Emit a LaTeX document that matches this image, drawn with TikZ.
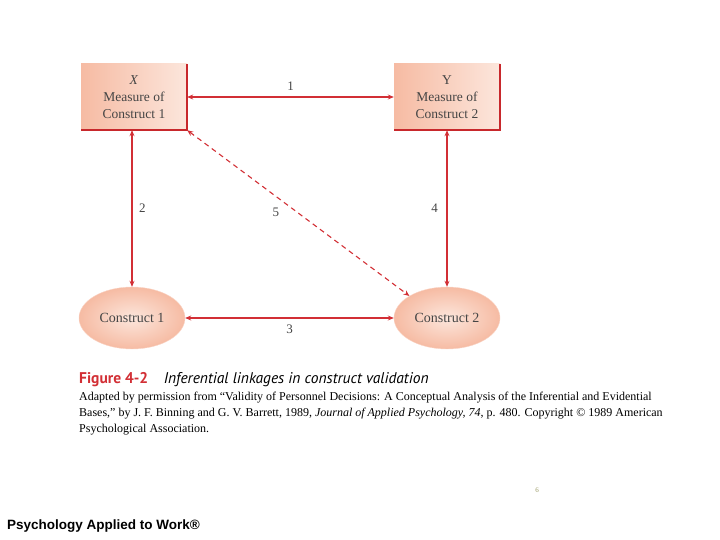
\documentclass[tikz,border=0pt]{standalone}
\usepackage{fontspec}
\setmainfont{Liberation Serif}
\newfontfamily\capfont{PT Sans}
\newfontfamily\footfont{Liberation Sans}
\usepackage{tikz}
\usetikzlibrary{positioning,arrows.meta,calc,shapes.geometric}
\definecolor{linRojo}{HTML}{D22F35}
\definecolor{sombraRojo}{HTML}{C8282C}
\definecolor{cajaOscuro}{HTML}{F6BBA3}
\definecolor{cajaClaro}{HTML}{FCE6DC}
\definecolor{textoGris}{HTML}{454545}
\definecolor{numVerde}{HTML}{9A9A66}

\begin{document}
\begin{tikzpicture}[x=1pt, y=-1pt,
        medida/.style={rectangle, align=center, minimum width=106pt, minimum height=66pt,
            left color=cajaOscuro, right color=cajaClaro, text=textoGris,
            font=\fontsize{13.5}{17}\selectfont},
        constructo/.style={ellipse, minimum width=106pt, minimum height=62pt, inner sep=1pt,
            inner color=cajaClaro, outer color=cajaOscuro, draw=cajaOscuro!60!white,
            text=textoGris, font=\fontsize{14}{16}\selectfont},
        sombra/.style={sombraRojo, line width=2.2pt},
        vinculo/.style={{Stealth[length=6pt,width=5pt]}-{Stealth[length=6pt,width=5pt]},
            linRojo, line width=1.4pt},
        vinculoDash/.style={vinculo, line width=1.1pt, dash pattern=on 5pt off 4pt},
        numero/.style={font=\fontsize{13}{15}\selectfont, text=textoGris}
    ]
        \useasboundingbox (0,0) rectangle (720,540);

        \node[medida] (medX) at (134, 97) {\textit{X}\\Measure of\\Construct 1};
        \node[medida] (medY) at (447, 97) {Y\\Measure of\\Construct 2};
        \draw[sombra] (medX.north east) -- (medX.south east) -- (medX.south west);
        \draw[sombra] (medY.north east) -- (medY.south east) -- (medY.south west);

        \node[constructo] (cons1) at (132, 318) {Construct 1};
        \node[constructo] (cons2) at (447, 318) {Construct 2};

        \draw[vinculo] (medX.east) -- node[numero, above=2pt] {1} (medY.west);
        \draw[vinculo] (medX.south -| cons1.north) -- node[numero, right=3pt] {2} (cons1.north);
        \draw[vinculo] (medY.south -| cons2.north) -- node[numero, left=5pt] {4} (cons2.north);
        \draw[vinculo] (cons1.east) -- node[numero, below=3pt] {3} (cons2.west);
        \draw[vinculoDash] (medX.south east) -- node[numero, pos=0.44, below left=1pt and 2pt] {5} (cons2.north west);

        % pie de figura
        \node[anchor=base west, inner sep=0pt, font=\capfont\fontsize{15.5}{17}\selectfont] (titulo) at (79, 383)
            {\textcolor{linRojo}{\bfseries Figure 4-2}\quad\textit{Inferential linkages in construct validation}};
        \node[anchor=north west, align=left, inner sep=0pt, font=\fontsize{12}{16}\selectfont] (fuente) at (79, 392)
            {Adapted by permission from ``Validity of Personnel Decisions: A Conceptual Analysis of the Inferential and Evidential\\
             Bases,'' by J. F. Binning and G. V. Barrett, 1989, \textit{Journal of Applied Psychology, 74}, p. 480. Copyright \textcopyright\ 1989 American\\
             Psychological Association.};

        \node[font=\fontsize{7}{8}\selectfont, text=numVerde] (pagina) at (537, 490) {6};
        \node[anchor=base west, inner sep=0pt, font=\footfont\bfseries\fontsize{13.5}{15}\selectfont] (pie) at (7, 529)
            {Psychology Applied to Work\textregistered};
    \end{tikzpicture}
\end{document}
